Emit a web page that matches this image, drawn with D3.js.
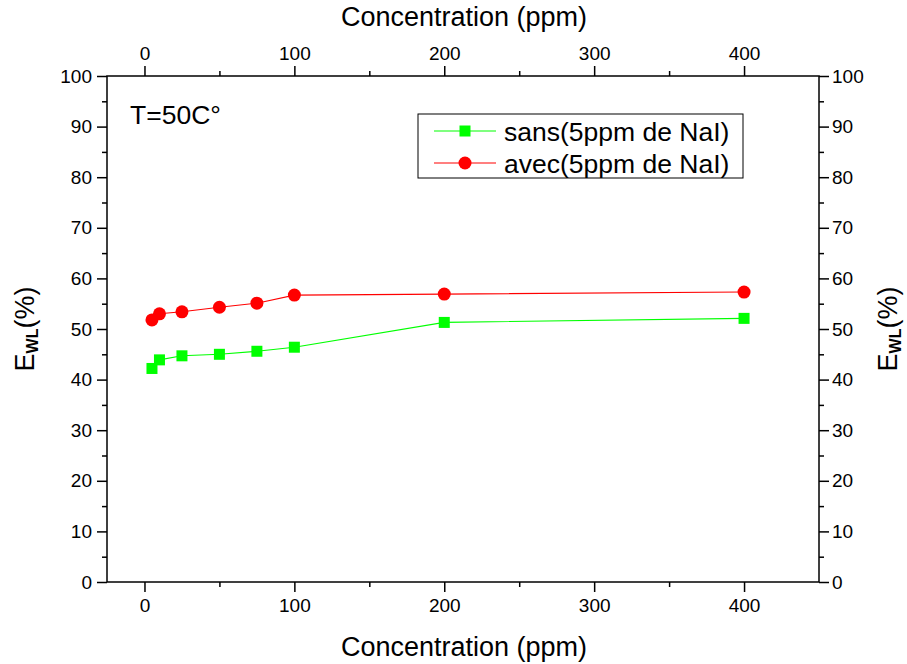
<!DOCTYPE html>
<html>
<head>
<meta charset="utf-8">
<script src="https://cdn.jsdelivr.net/npm/d3@7"></script>
<style>
  body { margin: 0; background: #fff; }
  text { font-family: "Liberation Sans", Arial, sans-serif; }
</style>
</head>
<body>
<svg id="chart" width="907" height="664"></svg>
<script>
// Data
const conc = [5, 10, 25, 50, 75, 100, 200, 400]
const sans = [42.2, 43.9, 44.7, 45.0, 45.6, 46.4, 51.3, 52.1]
const avec = [51.8, 53.0, 53.4, 54.3, 55.1, 56.7, 56.9, 57.3]
const xTicks = [0, 100, 200, 300, 400]
const yTicks = [0, 10, 20, 30, 40, 50, 60, 70, 80, 90, 100]
const xMinor = [50, 150, 250, 350]
const yMinor = [5, 15, 25, 35, 45, 55, 65, 75, 85, 95]

const svg = d3.select("#chart")
const mLeft = 107, mRight = 819, mTop = 76, mBottom = 582

const x = d3.scaleLinear().domain([-25, 450]).range([mLeft, mRight])
const y = d3.scaleLinear().domain([0, 100]).range([mBottom, mTop])

function styleAxis(g) {
  g.select(".domain").remove()
  g.selectAll("line").attr("stroke", "#000").attr("stroke-width", 1.5)
  g.selectAll("text").attr("font-size", 19).attr("fill", "#000")
    .attr("font-family", "'Liberation Sans', Arial, sans-serif")
}

const axes = [
  [d3.axisBottom(x), `translate(0,${mBottom})`, xTicks, xMinor, 7],
  [d3.axisTop(x), `translate(0,${mTop})`, xTicks, xMinor, 6],
  [d3.axisLeft(y), `translate(${mLeft},0)`, yTicks, yMinor, 5],
  [d3.axisRight(y), `translate(${mRight},0)`, yTicks, yMinor, 3]
]
axes.forEach(([ax, tr, ticks, minor, pad]) => {
  svg.append("g").attr("transform", tr)
    .call(ax.tickValues(ticks).tickSize(10).tickPadding(pad).tickFormat(d3.format("d")))
    .call(styleAxis)
  svg.append("g").attr("transform", tr)
    .call(ax.tickValues(minor).tickSize(5).tickFormat(""))
    .call(styleAxis)
})

// frame
svg.append("rect")
  .attr("x", mLeft).attr("y", mTop)
  .attr("width", mRight - mLeft).attr("height", mBottom - mTop)
  .attr("fill", "none").attr("stroke", "#000").attr("stroke-width", 1.5)

// series
const series = [
  { name: "sans(5ppm de NaI)", values: sans, color: "#00ff00", shape: "square" },
  { name: "avec(5ppm de NaI)", values: avec, color: "#ff0000", shape: "circle" }
]

const line = d3.line().x(d => x(d[0])).y(d => y(d[1]))

function marker(g, shape, color) {
  if (shape === "square") {
    g.append("rect").attr("x", -5.5).attr("y", -5.5).attr("width", 11).attr("height", 11)
      .attr("fill", color)
  } else {
    g.append("circle").attr("r", 6.5).attr("fill", color)
  }
}

series.forEach(s => {
  const pts = conc.map((c, i) => [c, s.values[i]])
  svg.append("path").datum(pts)
    .attr("d", line)
    .attr("fill", "none")
    .attr("stroke", s.color)
    .attr("stroke-width", 1.1)
  svg.selectAll(null).data(pts).join("g")
    .attr("transform", d => `translate(${x(d[0])},${y(d[1])})`)
    .each(function() { marker(d3.select(this), s.shape, s.color) })
})

// legend
const lg = svg.append("g")
lg.append("rect").attr("x", 418).attr("y", 114).attr("width", 325).attr("height", 64)
  .attr("fill", "#fff").attr("stroke", "#000").attr("stroke-width", 1)
series.forEach((s, i) => {
  const ly = 131 + i * 32
  lg.append("line").attr("x1", 434).attr("x2", 496).attr("y1", ly).attr("y2", ly)
    .attr("stroke", s.color).attr("stroke-width", 1.1)
  const m = lg.append("g").attr("transform", `translate(465,${ly})`)
  marker(m, s.shape, s.color)
  lg.append("text").attr("x", 504).attr("y", ly + 9.5)
    .attr("font-size", 26.5).text(s.name)
})

// annotation
svg.append("text").attr("x", 130).attr("y", 124).attr("font-size", 26.5).text("T=50C°")

// axis titles
svg.append("text").attr("x", (mLeft + mRight) / 2 + 1).attr("y", 656)
  .attr("text-anchor", "middle").attr("font-size", 27).text("Concentration (ppm)")
svg.append("text").attr("x", (mLeft + mRight) / 2 + 1).attr("y", 26)
  .attr("text-anchor", "middle").attr("font-size", 27).text("Concentration (ppm)")

function yTitle(cx) {
  const t = svg.append("text")
    .attr("transform", `translate(${cx},${(mTop + mBottom) / 2}) rotate(-90)`)
    .attr("text-anchor", "middle").attr("font-size", 27)
  t.append("tspan").text("E")
  t.append("tspan").attr("font-size", 16).attr("font-weight", "bold").attr("dy", 4).text("WL")
  t.append("tspan").attr("dy", -4).text("(%)")
}
yTitle(34)
yTitle(897)
</script>
</body>
</html>
